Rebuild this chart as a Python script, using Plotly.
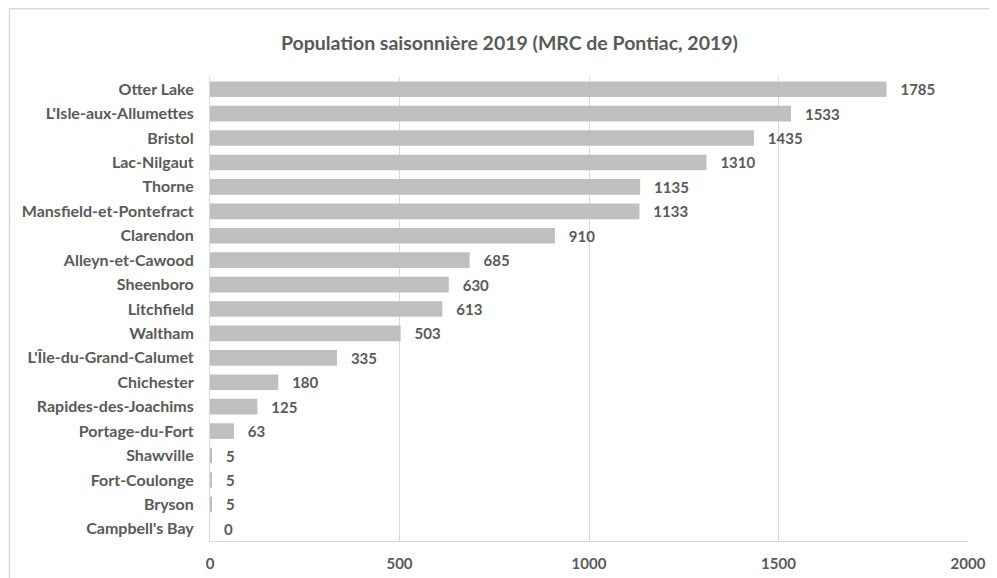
import plotly.graph_objects as go

categories = ["Otter Lake", "L'Isle-aux-Allumettes", "Bristol", "Lac-Nilgaut", "Thorne",
              "Mansfield-et-Pontefract", "Clarendon", "Alleyn-et-Cawood", "Sheenboro",
              "Litchfield", "Waltham", "L'Île-du-Grand-Calumet", "Chichester",
              "Rapides-des-Joachims", "Portage-du-Fort", "Shawville", "Fort-Coulonge",
              "Bryson", "Campbell's Bay"]
values = [1785, 1533, 1435, 1310, 1135, 1133, 910, 685, 630, 613, 503, 335, 180, 125, 63, 5, 5, 5, 0]
xticks = [0, 500, 1000, 1500, 2000]
title_text = "Population saisonnière 2019 (MRC de Pontiac, 2019)"

FONT = "Lato"
TXT = "#595959"

# page body has an 8px margin, so the figure is sized to fit the window
W, H = 989, 570
ML, MR, MT, MB = 202, 29, 69, 37
PW, PH = W - ML - MR, H - MT - MB

fig = go.Figure(go.Bar(
    x=values, y=categories, orientation="h",
    marker=dict(color="#bfbfbf", line=dict(width=0)),
    text=["   " + str(v) for v in values],
    textposition="outside",
    constraintext="none",
    textfont=dict(family=FONT, size=15, color=TXT, weight="bold"),
    cliponaxis=False,
))

fig.update_layout(
    width=W, height=H,
    margin=dict(l=ML, r=MR, t=MT, b=MB, autoexpand=False),
    paper_bgcolor="white", plot_bgcolor="white",
    bargap=0.36,
    showlegend=False,
    title=dict(text=title_text, x=0.507, xref="container", xanchor="center",
               y=1 - 35 / H, yanchor="middle",
               font=dict(family=FONT, size=19.5, color=TXT, weight="bold")),
    xaxis=dict(range=[0, 2000], tickvals=xticks, automargin=False,
               showgrid=True, gridcolor="#d9d9d9", gridwidth=1,
               zeroline=False, showline=True, linecolor="#d9d9d9", linewidth=1,
               ticks="", ticklabelstandoff=9,
               tickfont=dict(family=FONT, size=15, color=TXT, weight="bold")),
    yaxis=dict(autorange="reversed", showgrid=False, zeroline=False, automargin=False,
               showline=True, linecolor="#d9d9d9", linewidth=1,
               ticks="", ticklabelstandoff=12,
               tickfont=dict(family=FONT, size=16, color=TXT, weight="bold")),
    shapes=[dict(type="rect", xref="paper", yref="paper",
                 x0=(1.5 - ML) / PW, x1=(W + 10 - ML) / PW,
                 y0=-(MB + 20) / PH, y1=1 + (MT - 0.75) / PH,
                 line=dict(color="#d9d9d9", width=1.5), layer="below")],
)

fig.write_html("out.html")
